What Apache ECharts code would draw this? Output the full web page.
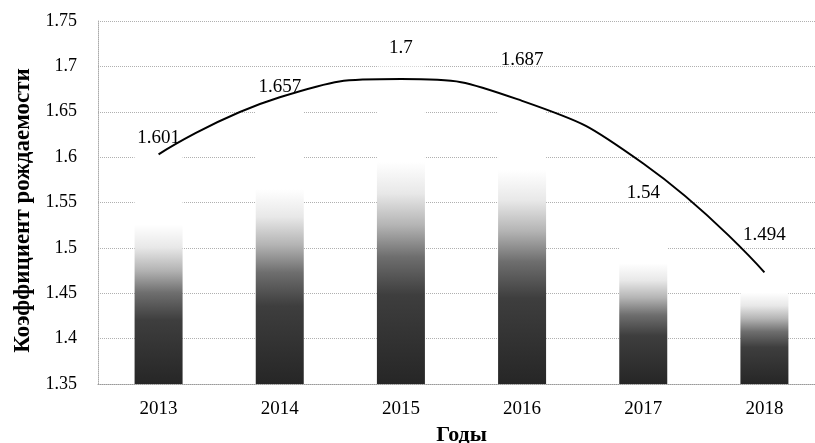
<!DOCTYPE html>
<html>
<head>
<meta charset="utf-8">
<script src="https://cdn.jsdelivr.net/npm/echarts@6/dist/echarts.min.js"></script>
<style>html,body{margin:0;padding:0;background:#fff;}#c{width:815px;height:443px;}</style>
</head>
<body>
<div id="c"></div>
<script>
var years = ['2013', '2014', '2015', '2016', '2017', '2018'];
var fertility = [1.601, 1.657, 1.7, 1.687, 1.54, 1.494];
var trend = [1.603, 1.666, 1.686, 1.662, 1.593, 1.473];
var yTicks = { min: 1.35, max: 1.75, step: 0.05 };

var serif = '"Liberation Serif", "Times New Roman", serif';
var chart = echarts.init(document.getElementById('c'), null, { renderer: 'canvas' });
chart.setOption({
  animation: false,
  backgroundColor: '#ffffff',
  grid: { left: 98, top: 21, width: 727, height: 363, containLabel: false, outerBoundsMode: 'none' },
  xAxis: {
    type: 'category',
    data: years,
    name: 'Годы',
    nameLocation: 'middle',
    nameGap: 39,
    nameTextStyle: { fontFamily: serif, fontWeight: 'bold', fontSize: 22, color: '#000' },
    axisLine: { show: true, lineStyle: { color: '#999', type: 'dotted' } },
    axisTick: { show: false },
    axisLabel: { fontFamily: serif, fontSize: 19, color: '#000', margin: 16 }
  },
  yAxis: {
    type: 'value',
    min: yTicks.min,
    max: yTicks.max,
    interval: yTicks.step,
    name: 'Коэффициент рождаемости',
    nameLocation: 'middle',
    nameGap: 62,
    nameTextStyle: { fontFamily: serif, fontWeight: 'bold', fontSize: 23, color: '#000', padding: [0, 16, 0, 0] },
    axisLine: { show: true, lineStyle: { color: '#aaa', type: 'dotted' } },
    axisTick: { show: false },
    axisLabel: { fontFamily: serif, fontSize: 18, color: '#000', margin: 21 },
    splitLine: { show: true, lineStyle: { color: '#b0b0b0', type: 'dotted' } }
  },
  series: [
    {
      type: 'bar',
      data: fertility,
      barWidth: 48,
      itemStyle: {
        color: {
          type: 'linear', x: 0, y: 0, x2: 0, y2: 1,
          colorStops: [
            { offset: 0, color: '#ffffff' },
            { offset: 0.3, color: '#ffffff' },
            { offset: 0.4, color: '#e8e8e8' },
            { offset: 0.5, color: '#b4b4b4' },
            { offset: 0.6, color: '#6e6e6e' },
            { offset: 0.72, color: '#3e3e3e' },
            { offset: 1, color: '#262626' }
          ]
        }
      },
      label: {
        show: true, position: 'top', distance: 9,
        fontFamily: serif, fontSize: 19, color: '#000'
      },
      z: 2
    },
    {
      type: 'line',
      data: trend,
      smooth: true,
      symbol: 'none',
      lineStyle: { color: '#000', width: 2 },
      z: 3
    }
  ]
});
</script>
</body>
</html>
